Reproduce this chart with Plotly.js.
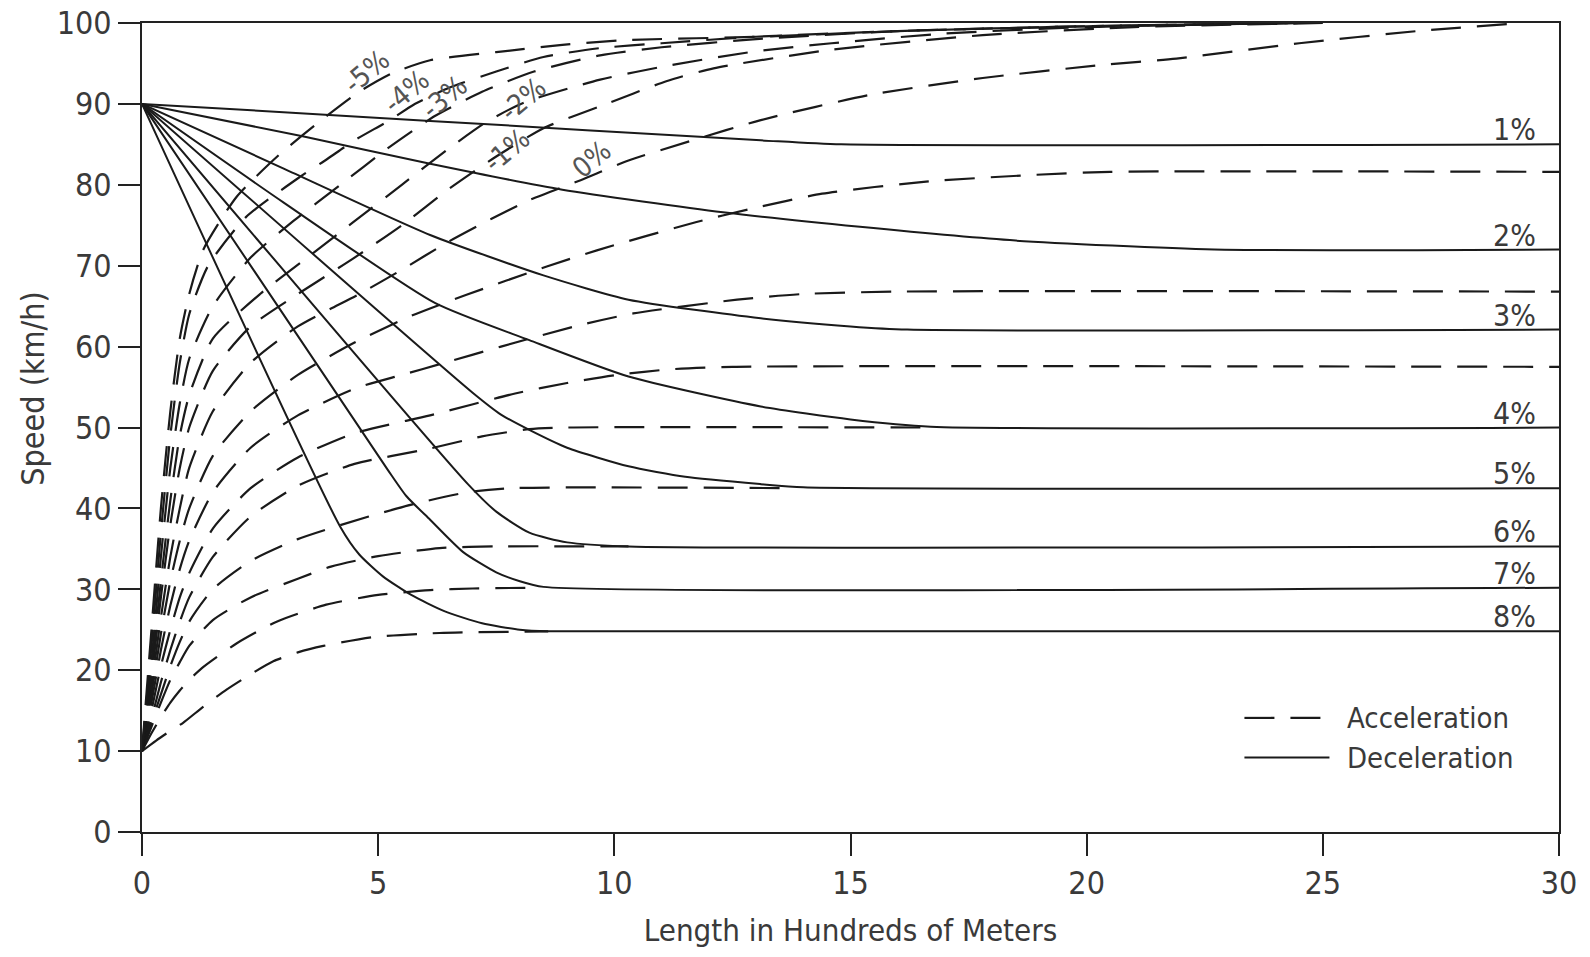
<!DOCTYPE html>
<html><head><meta charset="utf-8">
<script src="https://cdn.plot.ly/plotly-3.0.1.min.js"></script>
<style>html,body{margin:0;padding:0;background:#fff}#chart{width:1590px;height:957px}</style>
</head><body><div id="chart"></div>
<script>
// ---- Acceleration curves (dashed): x = length (hundreds of m), y = speed (km/h)
const accP8x = [0,0.3,0.6,0.87,1.3,1.79,2.3,2.78,3.3,3.84,4.9,6.3,8.6];
const accP8y = [10,11.3,12.5,13.5,15.5,17.6,19.5,21.1,22.2,23.0,24.1,24.6,24.8];
const accP7x = [0,0.2,0.4,0.6,0.8,1.0,1.3,2.0,2.85,3.9,5.0,6.1,7.0,8.4];
const accP7y = [10,12.2,14.2,16.0,17.5,18.8,20.4,23.3,26.0,28.1,29.3,29.9,30.1,30.2];
const accP6x = [0,0.2,0.4,0.6,0.8,1.0,1.5,2.3,3.3,4.0,5.0,6.3,7.5,10.3];
const accP6y = [10,13,16,18.8,21,23,26.2,29,31.3,32.8,34.1,35.1,35.3,35.3];
const accP5x = [0,0.2,0.4,0.6,0.8,1.0,1.5,2.3,3.3,4.8,5.8,6.9,7.8,13.8];
const accP5y = [10,13.5,17,20.5,23.5,26,30,33.5,36.2,39,40.6,42,42.5,42.5];
const accP4x = [0,0.2,0.4,0.6,0.8,1.0,1.5,2.3,3.3,4.5,6.1,7.2,8.2,9.0,16.7];
const accP4y = [10,14,18.5,22.5,26,29,34,39,42.8,45.5,47.4,48.9,49.8,50,50];
const accP3x = [0,0.2,0.4,0.6,0.8,1.0,1.5,2.3,3.3,4.5,6.1,7.9,9.0,10.05,11.2,12.5,30];
const accP3y = [10,15,20.5,25,29,32,37.5,42.5,46.3,49.3,51.5,54.2,55.5,56.5,57.2,57.5,57.5];
const accP2x = [0,0.2,0.4,0.6,0.8,1.0,1.5,2.3,3.3,4.5,5.5,6.35,7.6,9.3,10.4,12.6,14,16,30];
const accP2y = [10,16,22.5,28,32.5,36,42,47.5,51.5,54.8,56.5,57.9,60,62.7,64.1,65.8,66.5,66.8,66.8];
const accP1x = [0,0.2,0.4,0.6,0.8,1.0,1.5,2.3,3.3,4.5,5.7,6.87,8.57,9.63,11.74,12.87,14.4,16.6,18.8,20.5,30];
const accP1y = [10,17,24.5,31,36,40,46.5,52,56.5,60.5,63.8,66.4,69.9,71.9,75.4,77,78.9,80.4,81.2,81.6,81.6];
const acc0x  = [0,0.2,0.4,0.6,0.8,1.0,1.5,2.3,3.3,4.6,5.5,6.5,7.4,8.2,9.3,10.3,11.6,13.1,15.4,17.8,20.3,21.9,24.5,27,29.2];
const acc0y  = [10,18,26.5,34,40,45,52,58,62.5,66.5,69.5,73,75.8,78.1,80.6,83,85.4,88,91.1,93.2,94.8,95.6,97.5,99,100];
const accM1x = [0,0.2,0.4,0.6,0.8,1.0,1.5,2.3,3.3,4.5,5.5,6.5,7.5,8.5,9.7,11.1,12.1,14.6,17.8,21,25];
const accM1y = [10,19,29,38,45,50,57,62.5,66.5,71,75,79.5,83.5,87,89.7,92.8,94.4,96.7,98.5,99.5,100];
const accM2x = [0,0.2,0.4,0.6,0.8,1.0,1.5,2.5,3.5,4.5,5.5,6.5,7.3,8.1,9.7,11.2,13,14.6,17,20,24.5];
const accM2y = [10,20,31,41,49,54,61,66.5,71,75.5,80,84.5,87.8,90.2,93,94.8,96.5,97.5,98.7,99.5,100];
const accM3x = [0,0.2,0.4,0.6,0.8,1.0,1.5,2.3,3.2,4.2,5.2,6.2,7.2,8.3,9.7,11,13,16,20,24.5];
const accM3y = [10,21,34,45,53,58.5,65,71,75.5,80,84.5,88.5,91.5,94,96,97,98,99,99.6,100];
const accM4x = [0,0.2,0.4,0.6,0.8,1.0,1.4,2.2,3.35,3.9,4.5,5.25,5.75,6.5,7.5,8.5,9.7,11,13,16,20,24.5];
const accM4y = [10,23,37,49,58,64,70,76,81,83.1,85.5,88,89.9,92,94,95.8,96.9,97.5,98.3,99,99.6,100];
const accM5x = [0,0.2,0.4,0.6,0.8,1.0,1.3,2.0,2.9,3.8,4.6,5.3,6.1,7.5,8.9,10.3,13.1,16,20,24.5];
const accM5y = [10,25,40,52,61,66.5,72,78.5,83.7,88,91.5,93.8,95.4,96.4,97.3,97.9,98.3,99,99.6,100];

// ---- Deceleration curves (solid)
const decP1x = [0,6.1,13.1,14.8,30];
const decP1y = [90,87.9,85.5,85,85];
const decP2x = [0,3.4,6.1,8.9,12.3,15.2,18.5,22.7,30];
const decP2y = [90,86,82.6,79.4,76.6,74.8,73.1,72,72];
const decP3x = [0,3,6.1,8.5,10.3,13.1,15,16.2,30];
const decP3y = [90,82,73.8,68.8,65.8,63.5,62.5,62.1,62.1];
const decP4x = [0,3,6.2,8.2,10.3,13.1,15,16.7,30];
const decP4y = [90,77.8,65.4,60.8,56.3,52.6,51,50.1,50];
const decP5x = [0,7.0,7.6,8.2,9,10.3,11.5,13.1,14,30];
const decP5y = [90,54.3,51.6,49.7,47.5,45.2,43.9,43,42.6,42.5];
const decP6x = [0,6.9,7.5,8.2,9,10.3,30];
const decP6y = [90,43,39.6,37,35.8,35.3,35.3];
const decP7x = [0,5.2,5.6,6.1,6.8,7.5,8,8.5,30];
const decP7y = [90,44.8,41.5,38.6,34.6,32.1,31,30.3,30.2];
const decP8x = [0,4.2,4.6,5.1,5.7,6.4,7.2,8.0,8.6,30];
const decP8y = [90,37.7,34.3,31.6,29.3,27.3,25.8,25.0,24.8,24.8];

// ---- Labels
const rightLabels = ['1%','2%','3%','4%','5%','6%','7%','8%'];
const rightLabelY = [85,72,62.1,50,42.5,35.3,30.2,24.8];
const topLabels = ['-5%','-4%','-3%','-2%','-1%','0%'];
const topLabelX = [4.76,5.6,6.4,8.07,7.72,9.52];
const topLabelY = [94.0,91.5,90.8,90.5,84.3,83.1];
const legendNames = ['Acceleration','Deceleration'];

const FONT = "Liberation Sans Narrow, Arial Narrow, DejaVu Sans Condensed, sans-serif";
const TXT = '#3a3a3a';
const accList = [[accP8x,accP8y],[accP7x,accP7y],[accP6x,accP6y],[accP5x,accP5y],[accP4x,accP4y],
  [accP3x,accP3y],[accP2x,accP2y],[accP1x,accP1y],[acc0x,acc0y],[accM1x,accM1y],[accM2x,accM2y],
  [accM3x,accM3y],[accM4x,accM4y],[accM5x,accM5y]];
const accNames = ['8%','7%','6%','5%','4%','3%','2%','1%','0%','-1%','-2%','-3%','-4%','-5%'];
const decList = [[decP1x,decP1y],[decP2x,decP2y],[decP3x,decP3y],[decP4x,decP4y],
  [decP5x,decP5y],[decP6x,decP6y],[decP7x,decP7y],[decP8x,decP8y]];
const decNames = ['1%','2%','3%','4%','5%','6%','7%','8%'];

const ACC_LINE = {color:'#1a1a1a',width:2.2,dash:'30px,16px'};
const DEC_LINE = {color:'#1a1a1a',width:2};

const traces = [];
accList.forEach((c,i)=>{
  traces.push({x:c[0],y:c[1],type:'scatter',mode:'lines',name:'Acceleration '+accNames[i],
    showlegend:false,hoverinfo:'skip',
    line:Object.assign({shape:'spline',smoothing:0.6},ACC_LINE)});
});
decList.forEach((c,i)=>{
  traces.push({x:c[0],y:c[1],type:'scatter',mode:'lines',name:'Deceleration '+decNames[i],
    showlegend:false,hoverinfo:'skip',
    line:Object.assign({shape:'spline',smoothing:0.6},DEC_LINE)});
});

const annotations = [];
rightLabels.forEach((t,i)=>{
  annotations.push({x:29.55,y:rightLabelY[i],xref:'x',yref:'y',text:t,showarrow:false,
    xanchor:'right',yanchor:'bottom',yshift:-5,font:{family:FONT,size:30,color:TXT}});
});
topLabels.forEach((t,i)=>{
  annotations.push({x:topLabelX[i],y:topLabelY[i],xref:'x',yref:'y',text:t,showarrow:false,
    textangle:-40,font:{family:FONT,size:28,color:'#555'}});
});
// y-axis title placed to match the reference position
annotations.push({x:-0.077,y:0.549,xref:'paper',yref:'paper',text:'Speed (km/h)',showarrow:false,
  textangle:-90,xanchor:'center',yanchor:'middle',font:{family:FONT,size:32,color:TXT}});

// Key (legend) drawn inside the plot, lower right
const keyX0 = 0.778, keyX1 = 0.838, keyTextX = 0.849;
const keyY = [0.141, 0.092];
const shapes = [
  {type:'line',xref:'paper',yref:'paper',x0:keyX0,x1:keyX1,y0:keyY[0],y1:keyY[0],line:ACC_LINE},
  {type:'line',xref:'paper',yref:'paper',x0:keyX0,x1:keyX1,y0:keyY[1],y1:keyY[1],line:DEC_LINE}
];
legendNames.forEach((t,i)=>{
  annotations.push({x:keyTextX,y:keyY[i],xref:'paper',yref:'paper',text:t,showarrow:false,
    xanchor:'left',yanchor:'middle',font:{family:FONT,size:29,color:TXT}});
});

const layout = {
  width:1590,height:957,
  margin:{l:142,r:31,t:23,b:125},
  paper_bgcolor:'#fff',plot_bgcolor:'#fff',
  font:{family:FONT,size:32,color:TXT},
  showlegend:false,
  xaxis:{range:[0,30],tickvals:[0,5,10,15,20,25,30],ticks:'outside',ticklen:22,tickwidth:2,tickcolor:'#222',
    showline:true,linecolor:'#222',linewidth:2,mirror:true,showgrid:false,zeroline:false,
    tickfont:{family:FONT,size:32,color:TXT},
    title:{text:'Length in Hundreds of Meters',font:{family:FONT,size:31,color:TXT},standoff:18}},
  yaxis:{range:[0,100],tickvals:[0,10,20,30,40,50,60,70,80,90,100],ticks:'outside',ticklen:22,tickwidth:2,tickcolor:'#222',
    showline:true,linecolor:'#222',linewidth:2,mirror:true,showgrid:false,zeroline:false,
    tickfont:{family:FONT,size:32,color:TXT}},
  shapes:shapes,
  annotations:annotations
};
Plotly.newPlot('chart',traces,layout,{displayModeBar:false,staticPlot:true});
</script>
</body></html>
